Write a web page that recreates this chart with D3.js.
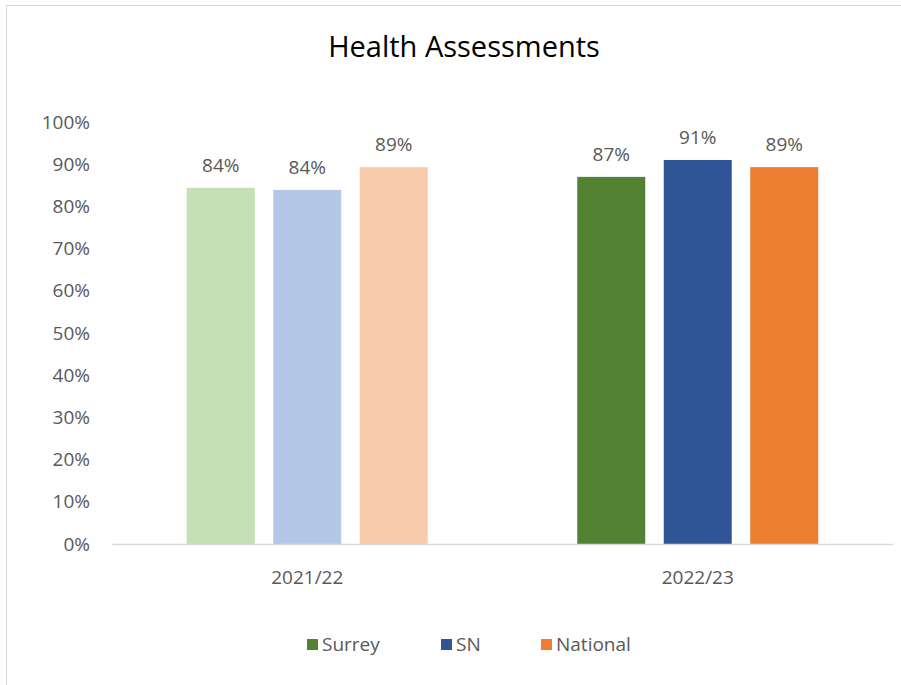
<!DOCTYPE html>
<html>
<head>
<meta charset="utf-8">
<script src="https://cdn.jsdelivr.net/npm/d3@7"></script>
<style>
  body { margin: 0; background: #fff; }
  svg { display: block; font-family: "Open Sans", Lato, sans-serif; }
</style>
</head>
<body>
<svg></svg>
<script>
const width = 901;
const height = 685;
const svg = d3.select("svg").attr("width", width).attr("height", height);

const years = ["2021/22", "2022/23"];
const seriesNames = ["Surrey", "SN", "National"];
const surreyValues = [0.844, 0.87];
const snValues = [0.839, 0.91];
const nationalValues = [0.893, 0.893];
const valueLabels = [["84%", "84%", "89%"], ["87%", "91%", "89%"]];
const yTicks = [0, 0.1, 0.2, 0.3, 0.4, 0.5, 0.6, 0.7, 0.8, 0.9, 1];

const darkColors = ["#548235", "#2F5597", "#ED7D31"];
const lightColors = ["#C5E0B4", "#B4C7E7", "#F8CBAD"];

const seriesValues = [surreyValues, snValues, nationalValues];
const fontFam = "'Open Sans', Lato, sans-serif";

// chart border
svg.append("rect")
  .attr("x", 6.5).attr("y", 5.5)
  .attr("width", width + 10).attr("height", height + 10)
  .attr("fill", "none")
  .attr("stroke", "#D9D9D9");

svg.append("text")
  .attr("x", 464).attr("y", 57)
  .attr("text-anchor", "middle")
  .attr("font-size", 29)
  .attr("fill", "#000")
  .text("Health Assessments");

const plotLeft = 112, plotRight = 893, plotTop = 122, plotBottom = 544;
const groupW = 241;

const y = d3.scaleLinear().domain([0, 1]).range([plotBottom, plotTop]);
const x0 = d3.scaleBand().domain(years).range([plotLeft, plotRight]);
const x1 = d3.scaleBand().domain(seriesNames).range([0, groupW]).paddingInner(0.214).paddingOuter(0);

// y labels
const yAxis = svg.append("g")
  .attr("transform", `translate(${plotLeft}, 0)`)
  .call(d3.axisLeft(y).tickValues(yTicks).tickFormat(d3.format(".0%")).tickSize(0).tickPadding(22));
yAxis.select(".domain").remove();
yAxis.selectAll("text")
  .attr("font-size", 19)
  .attr("fill", "#595959")
  .attr("font-family", fontFam);

// bars
years.forEach((yr, i) => {
  const g = svg.append("g")
    .attr("transform", `translate(${x0(yr) + x0.bandwidth() / 2 - groupW / 2}, 0)`);
  seriesNames.forEach((s, j) => {
    const v = seriesValues[j][i];
    g.append("rect")
      .attr("x", x1(s))
      .attr("y", y(v))
      .attr("width", x1.bandwidth())
      .attr("height", y(0) - y(v))
      .attr("fill", i === 0 ? lightColors[j] : darkColors[j]);
    g.append("text")
      .attr("x", x1(s) + x1.bandwidth() / 2)
      .attr("y", y(v) - 16)
      .attr("text-anchor", "middle")
      .attr("font-size", 19)
      .attr("fill", "#595959")
      .text(valueLabels[i][j]);
  });
});

// x axis
const xAxis = svg.append("g")
  .attr("transform", `translate(0, ${plotBottom})`)
  .call(d3.axisBottom(x0).tickSize(0).tickPadding(27));
xAxis.select(".domain").attr("stroke", "#D9D9D9").attr("stroke-width", 1.5);
xAxis.selectAll("text")
  .attr("font-size", 19)
  .attr("fill", "#595959")
  .attr("font-family", fontFam);

// legend
const legendX = [307, 441, 541];
seriesNames.forEach((s, j) => {
  const lg = svg.append("g").attr("transform", `translate(${legendX[j]}, 639)`);
  lg.append("rect").attr("width", 11).attr("height", 11).attr("fill", darkColors[j]);
  lg.append("text")
    .attr("x", 15).attr("y", 12)
    .attr("font-size", 19)
    .attr("fill", "#595959")
    .text(s);
});
</script>
</body>
</html>
